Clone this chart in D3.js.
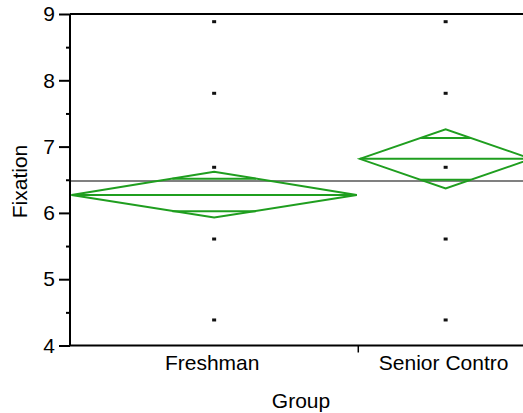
<!DOCTYPE html>
<html>
<head>
<meta charset="utf-8">
<script src="https://cdn.jsdelivr.net/npm/d3@7"></script>
<style>
  body { margin: 0; background: #fff; }
  svg { display: block; font-family: "Liberation Sans", Arial, sans-serif; }
</style>
</head>
<body>
<div id="chart"></div>
<script>
// data
const groups = ['Freshman', 'Senior Contro'];
const groupN = [33, 20];
const groupMeans = [6.27, 6.815];
const ciLower = [5.93, 6.37];
const ciUpper = [6.62, 7.26];
const grandMean = 6.48;
const pointValues = [8.884, 7.804, 6.688, 5.606, 4.385];
const yTicks = [4, 5, 6, 7, 8, 9];
const yMinorTicks = [4.5, 5.5, 6.5, 7.5, 8.5];

const width = 523;
const height = 413;
const plotLeft = 70, plotTop = 14, plotBottom = 345.5, plotRight = 533;
const green = '#1f9e1f';

const svg = d3.select('#chart').append('svg')
    .attr('width', width)
    .attr('height', height);

const y = d3.scaleLinear().domain([4, 9]).range([plotBottom, plotTop]);

// groups take widths proportional to their counts
const total = d3.sum(groupN);
const x = d3.scaleLinear().domain([0, total]).range([plotLeft, plotRight]);
const starts = d3.cumsum([0].concat(groupN.slice(0, -1)));
const bands = groups.map((g, i) => ({
    name: g,
    x0: x(starts[i]),
    x1: x(starts[i] + groupN[i]),
    mean: groupMeans[i],
    lo: ciLower[i],
    hi: ciUpper[i]
}));
bands.forEach(b => { b.cx = (b.x0 + b.x1) / 2; });

// top border
svg.append('line')
    .attr('x1', plotLeft).attr('x2', width)
    .attr('y1', plotTop).attr('y2', plotTop)
    .attr('stroke', '#000').attr('stroke-width', 2);

// grand mean
svg.append('line')
    .attr('x1', plotLeft).attr('x2', width)
    .attr('y1', y(grandMean)).attr('y2', y(grandMean))
    .attr('stroke', '#808080').attr('stroke-width', 2);

// mean diamonds
const dg = svg.append('g')
    .attr('fill', 'none')
    .attr('stroke', green)
    .attr('stroke-width', 2);

bands.forEach(b => {
    const pad = 1.5;
    const l = b.x0 + pad, r = b.x1 - pad;
    dg.append('path')
        .attr('d', `M${l},${y(b.mean)}L${b.cx},${y(b.hi)}L${r},${y(b.mean)}L${b.cx},${y(b.lo)}Z`);
    dg.append('line')
        .attr('x1', l).attr('x2', r)
        .attr('y1', y(b.mean)).attr('y2', y(b.mean));
    // overlap marks
    const half = (b.hi - b.lo) / 2 / Math.SQRT2;
    const frac = 1 - 1 / Math.SQRT2;
    const hw = (r - l) / 2 * frac;
    [b.mean + half, b.mean - half].forEach(v => {
        dg.append('line')
            .attr('x1', b.cx - hw).attr('x2', b.cx + hw)
            .attr('y1', y(v)).attr('y2', y(v));
    });
});

// points
bands.forEach(b => {
    svg.append('g').selectAll('rect')
        .data(pointValues)
        .join('rect')
        .attr('x', b.cx - 2)
        .attr('y', d => y(d) - 1.5)
        .attr('width', 4)
        .attr('height', 3)
        .attr('fill', '#111');
});

// y axis
const yAxis = svg.append('g')
    .attr('transform', `translate(${plotLeft},0)`)
    .call(d3.axisLeft(y).tickValues(yTicks).tickSize(11).tickPadding(4).tickFormat(d3.format('d')));
yAxis.select('.domain').attr('stroke-width', 2).attr('d', `M0,${plotTop}V${plotBottom}`);
yAxis.selectAll('.tick line').attr('stroke-width', 2);
yAxis.selectAll('.tick text')
    .attr('font-size', 21)
    .attr('font-family', '"Liberation Sans", Arial, sans-serif')
    .attr('fill', '#000');

const yMinor = svg.append('g')
    .attr('transform', `translate(${plotLeft},0)`)
    .call(d3.axisLeft(y).tickValues(yMinorTicks).tickSize(4).tickFormat(''));
yMinor.select('.domain').remove();
yMinor.selectAll('.tick line').attr('stroke-width', 2);

// x axis
svg.append('line')
    .attr('x1', plotLeft - 1).attr('x2', width)
    .attr('y1', plotBottom).attr('y2', plotBottom)
    .attr('stroke', '#000').attr('stroke-width', 2);

svg.append('g').selectAll('line')
    .data(bands.slice(1))
    .join('line')
    .attr('x1', d => d.x0).attr('x2', d => d.x0)
    .attr('y1', plotBottom).attr('y2', plotBottom + 7)
    .attr('stroke', '#000').attr('stroke-width', 1.5);

svg.append('g').selectAll('text')
    .data(bands)
    .join('text')
    .attr('x', d => d.cx - 2)
    .attr('y', 370)
    .attr('text-anchor', 'middle')
    .attr('font-size', 21)
    .text(d => d.name);

// axis titles
svg.append('text')
    .attr('x', 301)
    .attr('y', 408)
    .attr('text-anchor', 'middle')
    .attr('font-size', 21)
    .text('Group');

svg.append('text')
    .attr('transform', 'translate(27,181.5) rotate(-90)')
    .attr('text-anchor', 'middle')
    .attr('font-size', 21)
    .text('Fixation');
</script>
</body>
</html>
